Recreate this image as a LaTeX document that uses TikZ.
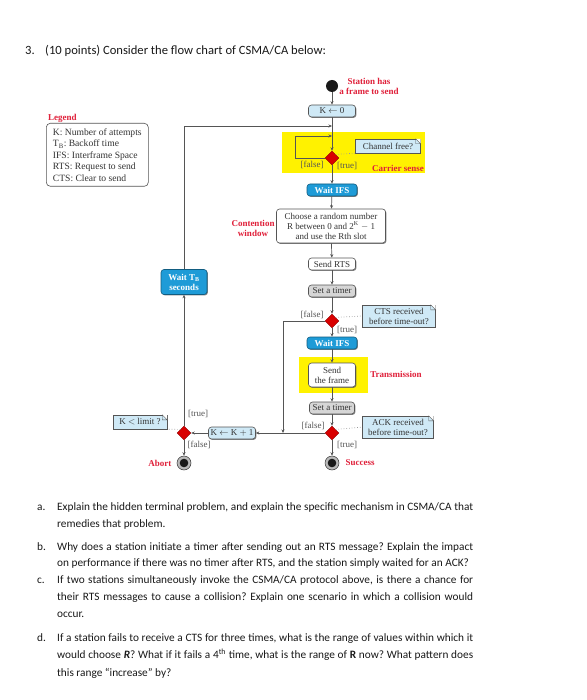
\documentclass[tikz,border=0pt]{standalone}
\usepackage{fontspec}
\setmainfont{Liberation Serif}
\newfontfamily\qfont{Carlito}
\usetikzlibrary{shapes.geometric,shadows,arrows.meta,calc}
\definecolor{ibl}{HTML}{1E9BD7}
\definecolor{lbl}{HTML}{CFE9F6}
\definecolor{redl}{HTML}{E0203A}
\definecolor{yel}{HTML}{FFF200}
\definecolor{ln}{HTML}{555555}
\definecolor{tgr}{HTML}{D6D6D6}
\definecolor{txt}{HTML}{333333}
\frenchspacing
\begin{document}
\begin{tikzpicture}[x=1pt,y=-1pt,
  base/.style={rounded corners=3pt, draw=ln, line width=0.6pt, text=txt,
    font=\fontsize{9}{10}\selectfont, align=center, inner sep=1.5pt,
    drop shadow={shadow xshift=0.9pt, shadow yshift=-0.9pt, opacity=0.7, fill=black!70}},
  bluebox/.style={base, fill=ibl, draw=ibl!60!black, text=white, font=\bfseries\fontsize{9}{10}\selectfont},
  lightbox/.style={base, fill=lbl},
  whitebox/.style={base, fill=white},
  greybox/.style={base, fill=tgr},
  dec/.style={diamond, fill=red!85!black, draw=red!55!black, line width=0.4pt, minimum size=14pt, inner sep=0pt},
  note/.style={fill=lbl, draw=ln, line width=0.4pt, text=txt, font=\fontsize{9}{10}\selectfont, align=center, inner sep=1.5pt},
  lab/.style={font=\fontsize{9}{10}\selectfont, text=ln},
  redlab/.style={font=\bfseries\fontsize{9}{10}\selectfont, text=redl, align=center},
  flow/.style={draw=ln, line width=0.7pt, -{Stealth[length=3.5pt,width=3pt]}},
  plain/.style={draw=ln, line width=0.7pt},
  dotc/.style={draw=gray!80, dotted, line width=0.7pt},
  dot/.style={circle, fill=black!90, minimum size=12pt, inner sep=0pt},
  enddot/.style={circle, draw=black!80, line width=0.5pt, fill=gray!55, minimum size=14pt, inner sep=0pt,
    path picture={\fill[black!90] (path picture bounding box.center) circle (4.3pt);}},
  q/.style={anchor=base west, font=\qfont\fontsize{11.3}{13}\selectfont, inner sep=0pt, text=black!90},
  qt/.style={q, font=\qfont\fontsize{12.6}{14}\selectfont}
]
\useasboundingbox (0,0) rectangle (586,700);
\fill[white] (0,0) rectangle (586,700);

% title
\node[qt] (title) at (25,55) {\makebox[20pt][l]{3.}(10 points) Consider the flow chart of CSMA/CA below:};

% yellow regions
\fill[yel] (282,132) rectangle (425,173);
\fill[yel] (299,357) rectangle (368,393);

% legend
\node[redlab, anchor=west, inner sep=0pt] (lgt) at (48,118) {Legend};
\node[anchor=north west, draw=ln, rounded corners=4pt, line width=0.6pt, align=left, text=txt,
  font=\fontsize{9.6}{11.5}\selectfont, inner sep=2.2pt, minimum width=102pt, minimum height=63pt] (leg) at (46,123)
  {K: Number of attempts\\T\textsubscript{B}: Backoff time\\IFS: Interframe Space\\RTS: Request to send\\CTS: Clear to send};

% main column
\node[dot] (start) at (332,86) {};
\node[redlab] (sl) at (369,86) {Station has\\a frame to send};
\node[lightbox, minimum width=47pt, minimum height=12pt] (k0) at (332,111) {K $\leftarrow$ 0};
\coordinate (j1) at (332,126);
\node[dec] (d1) at (332,158) {};
\coordinate (lpc) at (295,136);
\coordinate (lpj) at (332,136);
\node[note, minimum width=65pt, minimum height=14pt] (cf) at (388,146) {Channel free?};
\node[lab] (f1) at (312,165) {[false]};
\node[lab] (t1) at (347,166) {[true]};
\node[redlab] (cs) at (398,168) {Carrier sense};

\node[bluebox, minimum width=50pt, minimum height=12pt] (wifs1) at (332,190) {Wait IFS};
\node[whitebox, minimum width=109pt, minimum height=34pt] (choose) at (331,226)
  {Choose a random number\\R between 0 and 2\textsuperscript{K} $-$ 1\\and use the Rth slot};
\node[redlab] (cw) at (253,228) {Contention\\window};
\node[whitebox, minimum width=47pt, minimum height=12pt] (rts) at (332,264) {Send RTS};
\node[greybox, minimum width=47pt, minimum height=12pt] (tm1) at (332,291) {Set a timer};
\node[dec] (d2) at (332,321) {};
\node[lab] (f2) at (312,315) {[false]};
\node[lab] (t2) at (347,330) {[true]};
\node[note, minimum width=73pt, minimum height=22pt] (cts) at (399,316) {CTS received\\before time-out?};
\coordinate (c2) at (283,321);
\coordinate (j2) at (283,433);

\node[bluebox, minimum width=50pt, minimum height=12pt] (wifs2) at (332,343) {Wait IFS};
\node[whitebox, minimum width=47pt, minimum height=24pt] (frame) at (332,375) {Send\\the frame};
\node[redlab] (trm) at (396,374) {Transmission};
\node[greybox, minimum width=45pt, minimum height=12pt] (tm2) at (332,408) {Set a timer};
\node[dec] (d3) at (332,433) {};
\node[lab] (f3) at (313,426) {[false]};
\node[lab] (t3) at (347,445) {[true]};
\node[note, minimum width=71pt, minimum height=22pt] (ack) at (398,427) {ACK received\\before time-out?};
\node[enddot] (succ) at (332,463) {};
\node[redlab, anchor=west] (sucl) at (342,463) {Success};

% left column
\node[lightbox, minimum width=47pt, minimum height=12pt] (kk1) at (232,433) {K $\leftarrow$ K $+$ 1};
\node[dec] (d4) at (184,433) {};
\node[note, minimum width=54pt, minimum height=14pt] (kl) at (140,422) {K $<$ limit ?};
\node[lab] (t4) at (198,414) {[true]};
\node[lab] (f4) at (199,445) {[false]};
\node[enddot] (abort) at (184,463) {};
\node[redlab, anchor=east] (abl) at (175,463) {Abort};
\node[bluebox, minimum width=46pt, minimum height=25pt] (wtb) at (184,282) {Wait T\textsubscript{B}\\seconds};

% note folds
\foreach \n in {cf,cts,ack,kl}{
  \fill[white] ($(\n.north east)+(-5,0)$) -- (\n.north east) -- ($(\n.north east)+(0,5)$) -- cycle;
  \draw[ln, line width=0.4pt] ($(\n.north east)+(-5,0)$) -- ($(\n.north east)+(-5,5)$) -- ($(\n.north east)+(0,5)$) -- cycle;
}

% connectors
\draw[flow] (start) -- (k0);
\draw[flow] (k0) -- (d1);
\draw[flow] (wtb.north) |- (j1);
\draw[plain] (d1.west) -| (lpc);
\draw[flow] (lpc) -- (lpj);
\draw[flow] (d1) -- (wifs1);
\draw[flow] (wifs1) -- (choose);
\draw[flow] (choose) -- (rts);
\draw[flow] (rts) -- (tm1);
\draw[flow] (tm1) -- (d2);
\draw[flow] (d2) -- (wifs2);
\draw[flow] (wifs2) -- (frame);
\draw[flow] (frame) -- (tm2);
\draw[flow] (tm2) -- (d3);
\draw[flow] (d3) -- (succ);
\draw[plain] (d2.west) -- (c2);
\draw[flow] (c2) -- (j2);
\draw[flow] (d3.west) -- (kk1.east);
\draw[flow] (kk1.west) -- (d4.east);
\draw[flow] (d4.north) -- (wtb.south);
\draw[flow] (d4.south) -- (abort);

% dotted note links
\draw[dotc] (d1.north east) -- (cf.south west);
\draw[dotc] (d2.north east) -- (cts.west);
\draw[dotc] (d3.north east) -- (ack.west);
\draw[dotc] (d4.north west) -- (kl.south east);

% questions
\node[q] (qa) at (37,510) {a.};
\node[q] (qa1) at (57,510) {\makebox[416pt][s]{Explain the hidden terminal problem, and explain the specific mechanism in CSMA/CA that}};
\node[q] (qa2) at (57,527) {remedies that problem.};
\node[q] (qb) at (37,550) {b.};
\node[q] (qb1) at (57,550) {\makebox[416pt][s]{Why does a station initiate a timer after sending out an RTS message? Explain the impact}};
\node[q] (qb2) at (57,566) {on performance if there was no timer after RTS, and the station simply waited for an ACK?};
\node[q] (qc) at (37,583) {c.};
\node[q] (qc1) at (57,583) {\makebox[416pt][s]{If two stations simultaneously invoke the CSMA/CA protocol above, is there a chance for}};
\node[q] (qc2) at (57,600) {\makebox[416pt][s]{their RTS messages to cause a collision? Explain one scenario in which a collision would}};
\node[q] (qc3) at (57,617) {occur.};
\node[q] (qd) at (37,641) {d.};
\node[q] (qd1) at (57,641) {\makebox[416pt][s]{If a station fails to receive a CTS for three times, what is the range of values within which it}};
\node[q] (qd2) at (57,658) {\makebox[416pt][s]{would choose \textbf{\textit{R}}? What if it fails a 4\textsuperscript{th} time, what is the range of \textbf{R} now? What pattern does}};
\node[q] (qd3) at (57,676) {this range “increase” by?};
\end{tikzpicture}
\end{document}
